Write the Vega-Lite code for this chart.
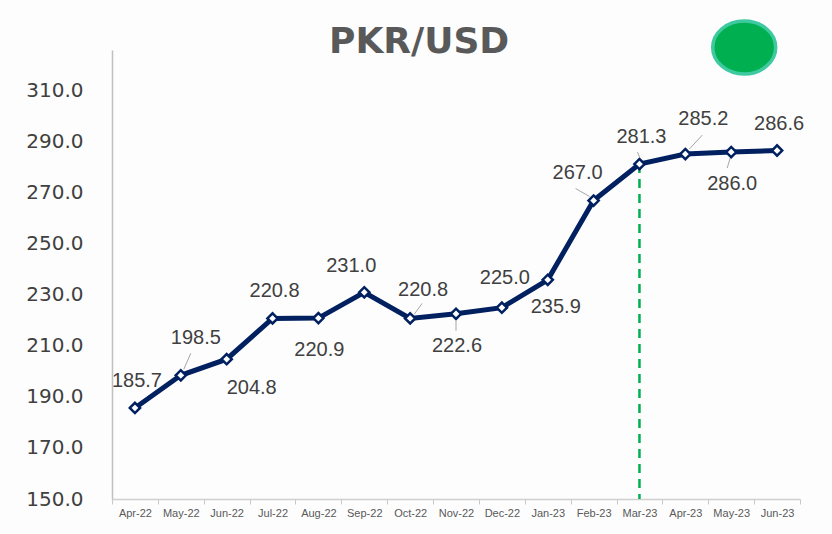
{
  "$schema": "https://vega.github.io/schema/vega-lite/v6.json",
  "width": 688,
  "height": 449,
  "autosize": {"type": "none"},
  "padding": {"left": 112, "top": 50, "right": 32, "bottom": 35},
  "background": "#fdfdfd",
  "config": {"view": {"stroke": null}},
  "data": {"values": [
    {"month": "Apr-22", "value": 185.7},
    {"month": "May-22", "value": 198.5},
    {"month": "Jun-22", "value": 204.8},
    {"month": "Jul-22", "value": 220.8},
    {"month": "Aug-22", "value": 220.9},
    {"month": "Sep-22", "value": 231.0},
    {"month": "Oct-22", "value": 220.8},
    {"month": "Nov-22", "value": 222.6},
    {"month": "Dec-22", "value": 225.0},
    {"month": "Jan-23", "value": 235.9},
    {"month": "Feb-23", "value": 267.0},
    {"month": "Mar-23", "value": 281.3},
    {"month": "Apr-23", "value": 285.2},
    {"month": "May-23", "value": 286.0},
    {"month": "Jun-23", "value": 286.6}
  ]},
  "encoding": {
    "x": {"field": "month", "type": "ordinal",
      "sort": ["Apr-22", "May-22", "Jun-22", "Jul-22", "Aug-22", "Sep-22", "Oct-22", "Nov-22", "Dec-22", "Jan-23", "Feb-23", "Mar-23", "Apr-23", "May-23", "Jun-23"],
      "scale": {"type": "band", "paddingInner": 0, "paddingOuter": 0, "domain": ["Apr-22", "May-22", "Jun-22", "Jul-22", "Aug-22", "Sep-22", "Oct-22", "Nov-22", "Dec-22", "Jan-23", "Feb-23", "Mar-23", "Apr-23", "May-23", "Jun-23"]},
      "axis": {"title": null, "labelFont": "Liberation Sans", "labelFontSize": 11, "labelColor": "#595959", "labelAngle": 0, "tickBand": "extent", "tickSize": 5, "tickColor": "#c8c8c8", "domainColor": "#d0d0d0", "domainWidth": 1.5, "labelPadding": 3}},
    "y": {"field": "value", "type": "quantitative",
      "scale": {"domain": [150, 326], "nice": false, "zero": false},
      "axis": {"title": null, "values": [150, 170, 190, 210, 230, 250, 270, 290, 310], "format": ".1f", "grid": false, "ticks": false, "labelFont": "DejaVu Sans", "labelFontSize": 20, "labelColor": "#404040", "labelPadding": 29, "domainColor": "#c0c0c0", "domainWidth": 1.5}}
  },
  "layer": [
    {"transform": [{"filter": "datum.month == 'Mar-23'"}],
     "mark": {"type": "rule", "color": "#00b050", "strokeDash": [9, 6], "strokeWidth": 2.5},
     "encoding": {"y": {"field": "value", "type": "quantitative"}, "y2": {"datum": 150}}},
    {"transform": [{"filter": "datum.month == 'May-22'"}],
     "mark": {"type": "rule", "color": "#a6a6a6", "strokeWidth": 1, "xOffset": 3, "yOffset": -6, "x2Offset": 10, "y2Offset": -22},
     "encoding": {"x2": {"field": "month"}, "y2": {"field": "value"}}},
    {"transform": [{"filter": "datum.month == 'Oct-22'"}],
     "mark": {"type": "rule", "color": "#a6a6a6", "strokeWidth": 1, "xOffset": 4, "yOffset": -4, "x2Offset": 12, "y2Offset": -15},
     "encoding": {"x2": {"field": "month"}, "y2": {"field": "value"}}},
    {"transform": [{"filter": "datum.month == 'Nov-22'"}],
     "mark": {"type": "rule", "color": "#a6a6a6", "strokeWidth": 1, "xOffset": 0, "yOffset": 7, "x2Offset": 0, "y2Offset": 17},
     "encoding": {"x2": {"field": "month"}, "y2": {"field": "value"}}},
    {"transform": [{"filter": "datum.month == 'Feb-23'"}],
     "mark": {"type": "rule", "color": "#a6a6a6", "strokeWidth": 1, "xOffset": -18, "yOffset": -12, "x2Offset": -4, "y2Offset": -4},
     "encoding": {"x2": {"field": "month"}, "y2": {"field": "value"}}},
    {"transform": [{"filter": "datum.month == 'Mar-23'"}],
     "mark": {"type": "rule", "color": "#a6a6a6", "strokeWidth": 1, "xOffset": -2, "yOffset": -12, "x2Offset": 0, "y2Offset": -7},
     "encoding": {"x2": {"field": "month"}, "y2": {"field": "value"}}},
    {"transform": [{"filter": "datum.month == 'Apr-23'"}],
     "mark": {"type": "rule", "color": "#a6a6a6", "strokeWidth": 1, "xOffset": 17, "yOffset": -19, "x2Offset": 4, "y2Offset": -5},
     "encoding": {"x2": {"field": "month"}, "y2": {"field": "value"}}},
    {"transform": [{"filter": "datum.month == 'May-23'"}],
     "mark": {"type": "rule", "color": "#a6a6a6", "strokeWidth": 1, "xOffset": -1, "yOffset": 6, "x2Offset": -4, "y2Offset": 16},
     "encoding": {"x2": {"field": "month"}, "y2": {"field": "value"}}},
    {"mark": {"type": "line", "color": "#002060", "strokeWidth": 5}},
    {"mark": {"type": "point", "shape": "diamond", "filled": true, "fill": "white", "stroke": "#002060", "strokeWidth": 2.5, "size": 105, "opacity": 1}},
    {"transform": [{"filter": {"field": "month", "oneOf": ["Apr-22", "Jul-22", "Mar-23", "Jun-23"]}}],
     "mark": {"type": "text", "font": "Liberation Sans", "fontSize": 20, "color": "#404040", "dx": 2, "dy": -27},
     "encoding": {"text": {"field": "value", "format": ".1f"}}},
    {"transform": [{"filter": {"field": "month", "oneOf": ["Aug-22", "Nov-22", "May-23"]}}],
     "mark": {"type": "text", "font": "Liberation Sans", "fontSize": 20, "color": "#404040", "dx": 1, "dy": 32},
     "encoding": {"text": {"field": "value", "format": ".1f"}}},
    {"transform": [{"filter": "datum.month == 'Sep-22'"}],
     "mark": {"type": "text", "font": "Liberation Sans", "fontSize": 20, "color": "#404040", "dx": -13, "dy": -26},
     "encoding": {"text": {"field": "value", "format": ".1f"}}},
    {"transform": [{"filter": "datum.month == 'Jun-22'"}],
     "mark": {"type": "text", "font": "Liberation Sans", "fontSize": 20, "color": "#404040", "dx": 25, "dy": 29},
     "encoding": {"text": {"field": "value", "format": ".1f"}}},
    {"transform": [{"filter": "datum.month == 'May-22'"}],
     "mark": {"type": "text", "font": "Liberation Sans", "fontSize": 20, "color": "#404040", "dx": 15, "dy": -37},
     "encoding": {"text": {"field": "value", "format": ".1f"}}},
    {"transform": [{"filter": "datum.month == 'Oct-22'"}],
     "mark": {"type": "text", "font": "Liberation Sans", "fontSize": 20, "color": "#404040", "dx": 13, "dy": -28},
     "encoding": {"text": {"field": "value", "format": ".1f"}}},
    {"transform": [{"filter": "datum.month == 'Dec-22'"}],
     "mark": {"type": "text", "font": "Liberation Sans", "fontSize": 20, "color": "#404040", "dx": 3, "dy": -30},
     "encoding": {"text": {"field": "value", "format": ".1f"}}},
    {"transform": [{"filter": "datum.month == 'Jan-23'"}],
     "mark": {"type": "text", "font": "Liberation Sans", "fontSize": 20, "color": "#404040", "dx": 8, "dy": 27},
     "encoding": {"text": {"field": "value", "format": ".1f"}}},
    {"transform": [{"filter": "datum.month == 'Feb-23'"}],
     "mark": {"type": "text", "font": "Liberation Sans", "fontSize": 20, "color": "#404040", "dx": -16, "dy": -28},
     "encoding": {"text": {"field": "value", "format": ".1f"}}},
    {"transform": [{"filter": "datum.month == 'Apr-23'"}],
     "mark": {"type": "text", "font": "Liberation Sans", "fontSize": 20, "color": "#404040", "dx": 18, "dy": -35},
     "encoding": {"text": {"field": "value", "format": ".1f"}}},
    {"transform": [{"filter": "datum.month == 'Oct-22'"}],
     "mark": {"type": "text", "text": "PKR/USD", "font": "DejaVu Sans", "fontSize": 36, "fontWeight": "bold", "color": "#595959", "baseline": "alphabetic", "align": "center", "dx": 9},
     "encoding": {"y": {"datum": 324.9}}},
    {"transform": [{"filter": "datum.month == 'May-23'"}],
     "mark": {"type": "point", "shape": "M-1,0C-1,-0.464,-0.552,-0.84,0,-0.84C0.552,-0.84,1,-0.464,1,0C1,0.464,0.552,0.84,0,0.84C-0.552,0.84,-1,0.464,-1,0Z", "size": 3969, "filled": true, "fill": "#00b050", "stroke": "#3ec9a0", "strokeWidth": 3.5, "opacity": 1, "xOffset": 13},
     "encoding": {"y": {"datum": 327}}}
  ]
}
